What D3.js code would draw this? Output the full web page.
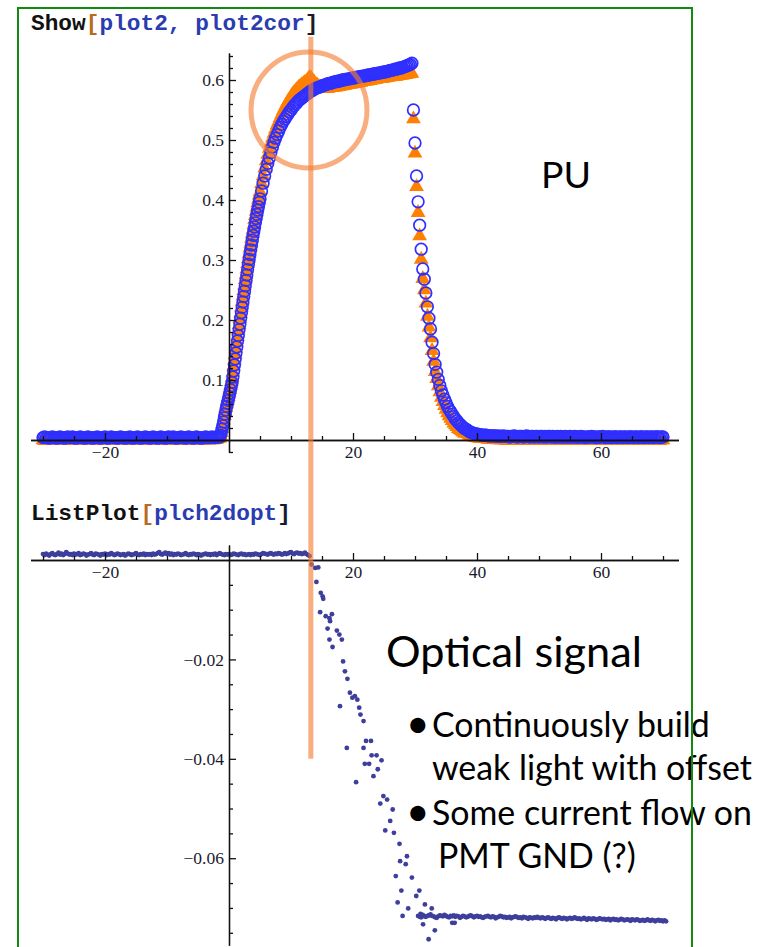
<!DOCTYPE html>
<html>
<head>
<meta charset="utf-8">
<script src="https://cdn.jsdelivr.net/npm/d3@7"></script>
<style>
  body { margin: 0; background: #fff; overflow: hidden; }
  svg { display: block; }
</style>
</head>
<body>
<script>
// ---------- data ----------
// sample times of the two PU traces (ns)
var puX = [].concat(
  d3.range(-30, -1.6, 0.25),    // 114
  d3.range(-1.5, 5.06, 0.125),  // 53
  d3.range(5.25, 29.6, 0.25),   // 98
  d3.range(29.75, 38.1, 0.25),  // 34
  d3.range(38.25, 70.1, 0.25)   // 128
);

// plot2cor : blue open circles
var puCor = [
  // baseline
  0.004,0.005,0.004,0.004,0.003,0.004,0.005,0.004,0.004,0.003,0.004,0.005,
  0.004,0.004,0.003,0.004,0.005,0.004,0.004,0.005,0.004,0.003,0.004,0.004,
  0.005,0.004,0.004,0.003,0.004,0.005,0.004,0.004,0.003,0.004,0.004,0.005,
  0.004,0.003,0.004,0.004,0.005,0.004,0.003,0.004,0.005,0.004,0.004,0.004,
  0.003,0.004,0.005,0.004,0.004,0.003,0.004,0.004,0.005,0.004,0.003,0.004,
  0.004,0.005,0.004,0.003,0.004,0.004,0.005,0.004,0.004,0.003,0.004,0.005,
  0.004,0.004,0.003,0.004,0.005,0.004,0.004,0.003,0.004,0.005,0.004,0.004,
  0.005,0.004,0.003,0.004,0.004,0.005,0.004,0.004,0.003,0.004,0.005,0.004,
  0.004,0.003,0.004,0.005,0.004,0.004,0.003,0.004,0.004,0.005,0.004,0.004,
  0.004,0.005,0.004,0.004,0.005,0.005,
  // rise
  0.005,0.008,0.012,0.018,0.024,0.030,0.037,0.043,0.050,0.056,
  0.061,0.066,0.072,0.078,0.084,0.090,0.096,0.105,0.115,0.125,
  0.135,0.145,0.155,0.165,0.174,0.184,0.193,0.203,0.212,0.221,
  0.230,0.239,0.248,0.257,0.266,0.275,0.284,0.293,0.301,0.309,
  0.317,0.325,0.333,0.341,0.348,0.355,0.362,0.369,0.376,0.383,
  0.389,0.396,0.402,
  // top
  0.415,0.428,0.440,0.451,0.461,0.470,0.479,0.488,0.496,0.503,
  0.509,0.515,0.521,0.526,0.531,0.535,0.539,0.543,0.547,0.550,
  0.554,0.557,0.560,0.563,0.566,0.568,0.570,0.572,0.574,0.576,
  0.578,0.580,0.582,0.583,0.585,0.586,0.587,0.588,0.589,0.590,
  0.591,0.592,0.593,0.594,0.594,0.595,0.596,0.597,0.597,0.598,
  0.598,0.599,0.600,0.600,0.601,0.601,0.602,0.602,0.603,0.603,
  0.604,0.604,0.605,0.605,0.606,0.606,0.607,0.607,0.608,0.608,
  0.609,0.609,0.610,0.610,0.611,0.611,0.612,0.612,0.613,0.613,
  0.614,0.614,0.615,0.616,0.616,0.617,0.618,0.618,0.619,0.620,
  0.620,0.621,0.622,0.623,0.624,0.625,0.626,0.628,
  // fall
  0.550,0.495,0.440,0.397,0.358,0.318,0.285,0.268,0.245,0.222,
  0.203,0.185,0.163,0.144,0.126,0.113,0.101,0.091,0.082,0.075,
  0.068,0.062,0.056,0.051,0.047,0.043,0.039,0.035,0.032,0.029,
  0.026,0.024,0.021,0.019,
  // tail
  0.018,0.016,0.014,0.013,0.012,0.011,0.010,0.010,0.009,0.009,
  0.008,0.008,0.008,0.008,0.007,0.007,0.007,0.007,0.007,0.007,
  0.006,0.007,0.006,0.006,0.007,0.006,0.006,0.006,0.005,0.006,0.006,0.007,
  0.006,0.005,0.006,0.006,0.006,0.005,0.006,0.007,0.006,0.005,0.006,0.006,
  0.005,0.006,0.006,0.005,0.006,0.006,0.005,0.006,0.005,0.006,0.006,0.005,
  0.006,0.005,0.005,0.006,0.005,0.006,0.005,0.005,0.006,0.005,0.005,0.006,
  0.005,0.005,0.006,0.005,0.005,0.005,0.006,0.005,0.005,0.004,0.005,0.005,
  0.005,0.006,0.005,0.005,0.004,0.005,0.005,0.005,0.006,0.005,0.004,0.005,
  0.005,0.005,0.004,0.005,0.005,0.005,0.004,0.005,0.005,0.004,0.005,0.005,
  0.004,0.005,0.005,0.005,0.004,0.005,0.005,0.004,0.005,0.005,0.005,0.004,
  0.005,0.005,0.004,0.005,0.005,0.004,0.005,0.005,0.005,0.004,0.005,0.005
];

// plot2 : orange triangles
var puRaw = [
  // baseline
  0.000,-0.001,0.000,0.001,0.000,0.000,-0.001,0.000,0.001,0.000,0.000,-0.001,
  0.000,0.000,0.001,0.000,-0.001,0.000,0.000,0.001,0.000,0.000,-0.001,0.000,
  0.001,0.000,0.000,-0.001,0.000,0.000,0.001,0.000,-0.001,0.000,0.000,0.001,
  0.000,0.000,-0.001,0.000,0.001,0.000,0.000,-0.001,0.000,0.001,0.000,0.000,
  -0.001,0.000,0.000,0.001,0.000,-0.001,0.000,0.000,0.001,0.000,0.000,-0.001,
  0.000,0.001,0.000,0.000,-0.001,0.000,0.000,0.001,0.000,-0.001,0.000,0.000,
  0.001,0.000,-0.001,0.000,0.000,0.001,0.000,0.000,-0.001,0.000,0.001,0.000,
  0.000,-0.001,0.000,0.001,0.000,0.000,-0.001,0.000,0.000,0.001,0.000,0.000,
  -0.001,0.000,0.000,0.001,0.000,0.000,-0.001,0.000,0.001,0.000,0.000,0.000,
  0.001,0.000,0.000,0.001,0.001,0.002,
  // rise
  0.003,0.007,0.012,0.019,0.026,0.033,0.040,0.047,0.054,0.060,
  0.066,0.072,0.078,0.084,0.091,0.097,0.104,0.113,0.123,0.133,
  0.143,0.153,0.163,0.173,0.183,0.192,0.202,0.211,0.221,0.231,
  0.240,0.249,0.258,0.267,0.276,0.285,0.294,0.302,0.311,0.320,
  0.328,0.336,0.344,0.351,0.359,0.367,0.374,0.381,0.388,0.395,
  0.401,0.408,0.414,
  // top
  0.427,0.440,0.453,0.465,0.476,0.486,0.495,0.503,0.511,0.518,
  0.525,0.531,0.537,0.543,0.549,0.554,0.559,0.564,0.568,0.572,
  0.576,0.579,0.582,0.585,0.588,0.590,0.592,0.594,0.596,0.598,
  0.601,0.604,0.603,0.599,0.596,0.593,0.591,0.589,0.588,0.587,
  0.586,0.586,0.586,0.586,0.587,0.587,0.587,0.588,0.588,0.589,
  0.589,0.590,0.590,0.591,0.591,0.592,0.592,0.593,0.593,0.594,
  0.594,0.595,0.595,0.596,0.596,0.597,0.597,0.598,0.598,0.599,
  0.599,0.600,0.600,0.601,0.601,0.602,0.602,0.602,0.603,0.603,
  0.604,0.604,0.605,0.605,0.606,0.606,0.606,0.606,0.607,0.607,
  0.608,0.608,0.609,0.609,0.610,0.610,0.611,0.611,
  // fall
  0.535,0.478,0.422,0.379,0.340,0.301,0.269,0.250,0.228,0.206,
  0.188,0.170,0.149,0.131,0.114,0.102,0.090,0.080,0.071,0.064,
  0.057,0.051,0.045,0.040,0.036,0.032,0.028,0.025,0.022,0.019,
  0.017,0.015,0.013,0.011,
  // tail
  0.012,0.010,0.008,0.007,0.006,0.005,0.004,0.004,0.003,0.003,
  0.002,0.002,0.002,0.002,0.001,0.001,0.001,0.001,0.001,0.001,
  0.000,0.001,0.000,0.000,0.001,0.000,-0.001,0.000,0.000,-0.001,0.000,0.000,
  -0.001,0.000,0.000,-0.001,0.000,0.000,0.001,0.000,-0.001,0.000,0.000,-0.001,
  0.000,0.000,-0.001,0.000,-0.001,0.000,0.000,-0.001,0.000,0.000,-0.001,0.000,
  0.000,-0.001,0.000,0.000,-0.001,0.000,0.000,-0.001,0.000,-0.001,0.000,0.000,
  -0.001,0.000,0.000,-0.001,0.000,0.000,-0.001,0.000,0.000,-0.001,0.000,0.000,
  0.000,-0.001,0.000,0.000,-0.001,0.000,-0.001,0.000,0.000,-0.001,0.000,0.000,
  -0.001,0.000,0.000,-0.001,0.000,0.000,0.000,-0.001,0.000,0.000,-0.001,0.000,
  0.000,-0.001,0.000,0.000,-0.001,0.000,0.000,-0.001,0.000,0.000,-0.001,0.000,
  -0.001,0.000,0.000,-0.001,0.000,0.000,-0.001,0.000,0.000,-0.001,0.000,0.000
];

// plch2dopt : optical signal, before the drop
var optHiX = d3.range(-30, 13.1, 0.25);   // 173
var optHiY = [
  0.0012,0.0010,0.0013,0.0011,0.0009,0.0012,0.0014,0.0011,0.0010,0.0012,0.0015,0.0011,
  0.0013,0.0010,0.0012,0.0016,0.0013,0.0011,0.0012,0.0010,0.0013,0.0011,0.0012,0.0014,
  0.0010,0.0011,0.0013,0.0012,0.0009,0.0011,0.0012,0.0014,0.0011,0.0010,0.0013,0.0012,
  0.0011,0.0009,0.0012,0.0011,0.0013,0.0010,0.0012,0.0011,0.0014,0.0012,0.0010,0.0011,
  0.0013,0.0012,0.0010,0.0011,0.0012,0.0009,0.0011,0.0013,0.0012,0.0010,0.0011,0.0012,
  0.0014,0.0011,0.0010,0.0012,0.0011,0.0013,0.0010,0.0012,0.0011,0.0012,0.0010,0.0013,
  0.0011,0.0012,0.0014,0.0016,0.0012,0.0011,0.0013,0.0015,0.0012,0.0014,0.0011,0.0013,
  0.0010,0.0012,0.0011,0.0013,0.0012,0.0010,0.0011,0.0012,0.0014,0.0011,0.0010,0.0012,
  0.0011,0.0013,0.0012,0.0010,0.0012,0.0011,0.0009,0.0011,0.0012,0.0013,0.0011,0.0012,
  0.0010,0.0012,0.0011,0.0013,0.0010,0.0012,0.0014,0.0012,0.0011,0.0010,0.0012,0.0011,
  0.0012,0.0010,0.0011,0.0013,0.0012,0.0011,0.0010,0.0012,0.0013,0.0011,0.0012,0.0010,
  0.0011,0.0012,0.0010,0.0012,0.0011,0.0013,0.0012,0.0011,0.0010,0.0012,0.0014,0.0013,
  0.0012,0.0011,0.0013,0.0014,0.0012,0.0011,0.0013,0.0012,0.0014,0.0013,0.0011,0.0012,
  0.0014,0.0012,0.0013,0.0015,0.0016,0.0013,0.0012,0.0014,0.0015,0.0013,0.0014,0.0012,
  0.0013,0.0015,0.0012,0.0010,0.0008
];
// the drop (scattered points)
var optFallX = [13.3,13.9,14.4,14.1,14.8,15.1,15.2,14.7,15.6,16.2,16.6,16.3,15.9,17.4,17.8,18.2,16.2,16.7,
  18.4,18.7,19.1,19.5,19.9,20.3,20.7,17.9,21.0,21.2,21.7,22.1,22.9,19.0,21.7,23.0,23.8,24.6,21.9,22.6,
  24.0,23.3,20.5,24.9,25.5,24.4,26.4,26.0,25.2,26.6,27.5,28.7,27.6,28.5,26.9,29.5,27.8,30.7,30.2,27.2,
  31.6,28.9,32.7,28.0,31.3,33.2,32.2,36.0,36.4,30.9];
var optFallY = [-0.0009,-0.0016,-0.0015,-0.0044,-0.0066,-0.0073,-0.0078,-0.0105,-0.0113,-0.0117,-0.0109,
  -0.0123,-0.0138,-0.0142,-0.0150,-0.0160,-0.0160,-0.0175,-0.0204,-0.0224,-0.0239,-0.0267,-0.0277,-0.0274,
  -0.0281,-0.0294,-0.0297,-0.0311,-0.0324,-0.0364,-0.0364,-0.0378,-0.0378,-0.0393,-0.0393,-0.0403,-0.0410,
  -0.0410,-0.0421,-0.0435,-0.0447,-0.0475,-0.0482,-0.0490,-0.0502,-0.0525,-0.0544,-0.0549,-0.0571,-0.0596,
  -0.0606,-0.0612,-0.0636,-0.0639,-0.0665,-0.0665,-0.0676,-0.0689,-0.0693,-0.0701,-0.0701,-0.0716,-0.0733,
  -0.0745,-0.0763,-0.0730,-0.0730,-0.0712];
// after the drop
var optLoX = d3.range(30.5, 70.6, 0.25);  // 161
var optLoY = [
  -0.0716,-0.0718,-0.0719,-0.0714,-0.0717,-0.0718,-0.0716,-0.0715,-0.0713,-0.0716,-0.0717,-0.0719,
  -0.0720,-0.0717,-0.0715,-0.0716,-0.0717,-0.0714,-0.0716,-0.0718,-0.0719,-0.0716,-0.0717,-0.0715,
  -0.0718,-0.0716,-0.0717,-0.0720,-0.0718,-0.0716,-0.0717,-0.0719,-0.0718,-0.0716,-0.0715,-0.0717,
  -0.0719,-0.0717,-0.0716,-0.0718,-0.0717,-0.0719,-0.0720,-0.0718,-0.0717,-0.0716,-0.0718,-0.0719,
  -0.0717,-0.0718,-0.0721,-0.0719,-0.0718,-0.0716,-0.0717,-0.0719,-0.0718,-0.0720,-0.0719,-0.0718,
  -0.0721,-0.0719,-0.0718,-0.0717,-0.0719,-0.0720,-0.0719,-0.0721,-0.0718,-0.0719,-0.0720,-0.0722,
  -0.0719,-0.0720,-0.0721,-0.0719,-0.0720,-0.0718,-0.0720,-0.0721,-0.0719,-0.0720,-0.0722,-0.0720,
  -0.0719,-0.0721,-0.0722,-0.0720,-0.0721,-0.0723,-0.0720,-0.0719,-0.0721,-0.0722,-0.0720,-0.0721,
  -0.0723,-0.0721,-0.0720,-0.0722,-0.0721,-0.0719,-0.0721,-0.0722,-0.0721,-0.0723,-0.0722,-0.0720,
  -0.0722,-0.0724,-0.0721,-0.0722,-0.0723,-0.0721,-0.0722,-0.0724,-0.0723,-0.0721,-0.0722,-0.0723,
  -0.0722,-0.0724,-0.0723,-0.0722,-0.0725,-0.0723,-0.0722,-0.0724,-0.0723,-0.0725,-0.0724,-0.0722,
  -0.0723,-0.0725,-0.0724,-0.0723,-0.0724,-0.0726,-0.0723,-0.0724,-0.0725,-0.0723,-0.0724,-0.0726,
  -0.0725,-0.0724,-0.0726,-0.0725,-0.0723,-0.0725,-0.0726,-0.0724,-0.0725,-0.0727,-0.0725,-0.0724,
  -0.0726,-0.0725,-0.0727,-0.0725,-0.0727
];

// tick labels
var xTickVals = [-20, 20, 40, 60];
var topYTickVals = [0.1, 0.2, 0.3, 0.4, 0.5, 0.6];
var botYTickVals = [-0.02, -0.04, -0.06];

// annotation (data coordinates)
var markX = 13.2, markTop = 0.672, markBottom = -0.04;
var ringX = 12.9, ringY = 0.55;

// ---------- drawing ----------
var width = 768, height = 947;
var svg = d3.select('body').append('svg').attr('width', width).attr('height', height);

var x = d3.scaleLinear().domain([-32, 72.5]).range([30.6, 678.5]);
var yTop = d3.scaleLinear().domain([-0.02, 0.645]).range([452, 53]);
var yBot = d3.scaleLinear().domain([-0.0775, 0.003]).range([945.2, 545.1]);

function fmt(d) { return (d < 0 ? '\u2212' : '') + Math.abs(d); }
function notIn(list) {
  return function (v) { return list.every(function (m) { return Math.abs(m - v) > 1e-9; }); };
}

function styleAxis(g) {
  g.selectAll('path.domain').attr('stroke', '#111').attr('stroke-width', 1.3);
  g.selectAll('.tick line').attr('stroke', '#111').attr('stroke-width', 1.3);
  g.selectAll('text')
    .style('font-family', '"Liberation Serif", "Times New Roman", serif')
    .style('font-size', '17.5px')
    .attr('fill', '#1a1a2e');
}

function xAxes(g, yPos) {
  var minor = d3.range(-30, 70.1, 5).filter(notIn(xTickVals.concat([0])));
  g.append('g').attr('transform', 'translate(0,' + yPos + ')')
    .call(d3.axisBottom(x).tickValues(minor).tickFormat('').tickSizeInner(-4).tickSizeOuter(0))
    .call(styleAxis);
  g.append('g').attr('transform', 'translate(0,' + yPos + ')')
    .call(d3.axisBottom(x).tickValues(xTickVals).tickFormat(fmt).tickSizeInner(-7).tickSizeOuter(0).tickPadding(6))
    .call(styleAxis);
}

function yAxes(g, scale, majors, minors) {
  g.append('g').attr('transform', 'translate(' + x(0) + ',0)')
    .call(d3.axisLeft(scale).tickValues(minors).tickFormat('').tickSizeInner(-4).tickSizeOuter(0))
    .call(styleAxis);
  g.append('g').attr('transform', 'translate(' + x(0) + ',0)')
    .call(d3.axisLeft(scale).tickValues(majors).tickFormat(fmt).tickSizeInner(-7).tickSizeOuter(0).tickPadding(5))
    .call(styleAxis);
}

// titles (Mathematica input cells)
function cell(y, head, arg) {
  var t = svg.append('text').attr('x', 31).attr('y', y)
    .style('font-family', '"Liberation Mono", "DejaVu Sans Mono", monospace')
    .style('font-weight', 'bold').style('font-size', '22.8px')
    .attr('xml:space', 'preserve');
  t.append('tspan').attr('fill', '#111').text(head);
  t.append('tspan').attr('fill', '#b86a1e').text('[');
  t.append('tspan').attr('fill', '#2a3cb0').text(arg);
  t.append('tspan').attr('fill', '#1a1a2a').text(']');
}
cell(30, 'Show', 'plot2, plot2cor');
cell(520, 'ListPlot', 'plch2dopt');

// top plot: plot2 (orange triangles) under plot2cor (blue circles)
var topG = svg.append('g');
topG.selectAll('path.raw').data(puX).enter().append('path')
  .attr('class', 'raw')
  .attr('d', d3.symbol(d3.symbolTriangle, 95))
  .attr('transform', function (d, i) { return 'translate(' + x(d) + ',' + yTop(puRaw[i]) + ')'; })
  .attr('fill', '#ff8000');
topG.selectAll('circle.cor').data(puX).enter().append('circle')
  .attr('class', 'cor')
  .attr('cx', function (d) { return x(d); })
  .attr('cy', function (d, i) { return yTop(puCor[i]); })
  .attr('r', 5.8)
  .attr('fill', 'none')
  .attr('stroke', '#2f2fff')
  .attr('stroke-width', 1.7);

xAxes(svg.append('g'), yTop(0));
yAxes(svg.append('g'), yTop, topYTickVals,
  d3.range(-1, 33).map(function (k) { return k * 0.02; }).filter(notIn(topYTickVals.concat([0]))));

// bottom plot: optical signal
var optPts = [];
optHiX.forEach(function (d, i) { optPts.push([d, optHiY[i]]); });
optFallX.forEach(function (d, i) { optPts.push([d, optFallY[i]]); });
optLoX.forEach(function (d, i) { optPts.push([d, optLoY[i]]); });

svg.append('g').selectAll('circle').data(optPts).enter().append('circle')
  .attr('cx', function (d) { return x(d[0]); })
  .attr('cy', function (d) { return yBot(d[1]); })
  .attr('r', 2.4)
  .attr('fill', '#3e3e9c');

xAxes(svg.append('g'), yBot(0));
yAxes(svg.append('g'), yBot, botYTickVals,
  d3.range(-15, 1).map(function (k) { return k * 0.005; }).filter(notIn(botYTickVals.concat([0]))));

// orange annotation: vertical marker and ring
var ann = svg.append('g');
ann.append('line')
  .attr('x1', x(markX)).attr('x2', x(markX))
  .attr('y1', yTop(markTop)).attr('y2', yBot(markBottom))
  .attr('stroke', '#f47c30').attr('stroke-opacity', 0.62).attr('stroke-width', 5);
ann.append('circle')
  .attr('cx', x(ringX)).attr('cy', yTop(ringY)).attr('r', 58)
  .attr('fill', 'none')
  .attr('stroke', '#f47c30').attr('stroke-opacity', 0.62).attr('stroke-width', 5);

// slide text
var txt = svg.append('g').style('font-family', 'Lato, "Open Sans", sans-serif').attr('fill', '#000');
function fit(t, w) {
  var fs = parseFloat(t.style('font-size'));
  var cw = t.node().getComputedTextLength();
  t.style('font-size', (fs * w / cw) + 'px');
  return fs * w / cw;
}
fit(txt.append('text').attr('x', 541).attr('y', 188).style('font-size', '40px').text('PU'), 50);
fit(txt.append('text').attr('x', 386).attr('y', 667).style('font-size', '40px').text('Optical signal'), 256);

var lines = [
  { t: 'Continuously build', x: 432, y: 737, b: true },
  { t: 'weak light with offset', x: 432, y: 780, b: false },
  { t: 'Some current flow on', x: 432, y: 825, b: true },
  { t: 'PMT GND (?)', x: 438, y: 868, b: false }
];
var probe = txt.append('text').style('font-size', '32px').text(lines[1].t);
var fsB = fit(probe, 320);
probe.remove();
lines.forEach(function (l) {
  txt.append('text').attr('x', l.x).attr('y', l.y).style('font-size', fsB + 'px').text(l.t);
  if (l.b) txt.append('text').attr('x', 406).attr('y', l.y + 1).style('font-size', (fsB * 1.2) + 'px').text('\u2022');
});

// green slide frame
svg.append('rect').attr('x', 18).attr('y', 8).attr('width', 674).attr('height', 1000)
  .attr('fill', 'none').attr('stroke', '#128a12').attr('stroke-width', 2);
</script>
</body>
</html>
